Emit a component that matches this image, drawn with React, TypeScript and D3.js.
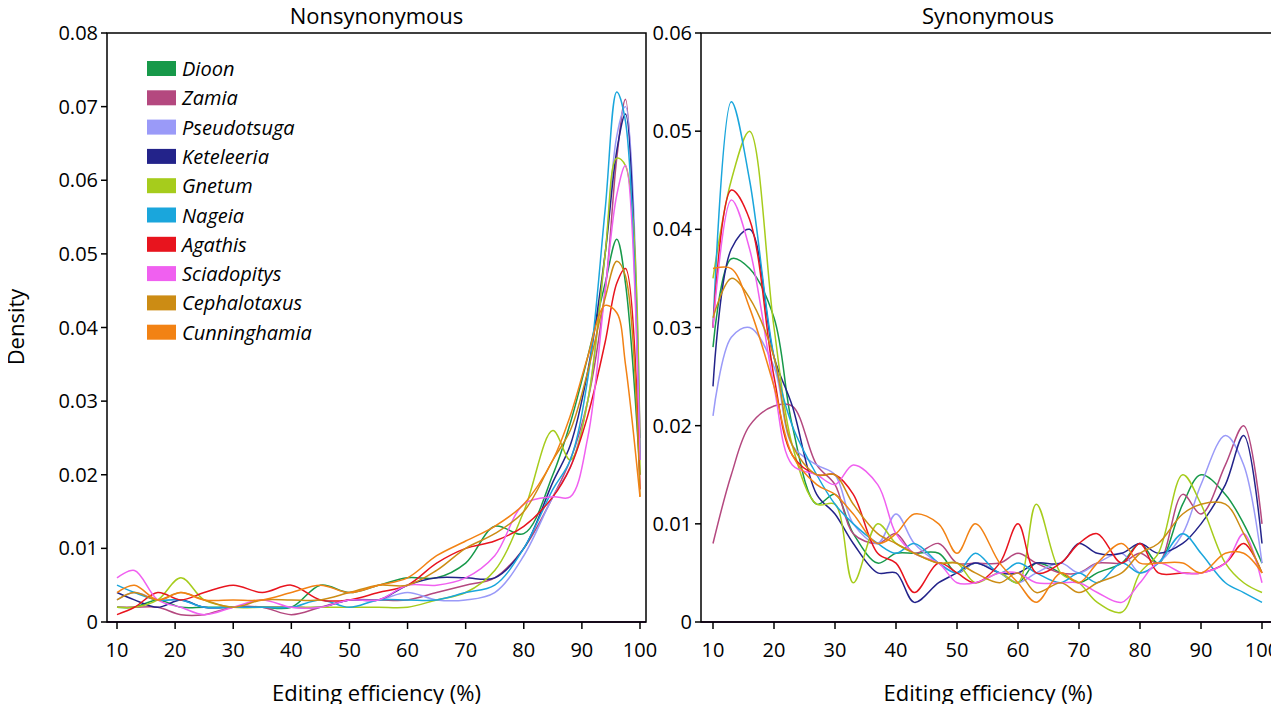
import * as d3 from "d3";

const species = ["Dioon", "Zamia", "Pseudotsuga", "Keteleeria", "Gnetum", "Nageia", "Agathis", "Sciadopitys", "Cephalotaxus", "Cunninghamia"];
const colors = ["#17994a", "#b4487f", "#9a9af8", "#23238a", "#a6cc1c", "#1aa6dc", "#e8141e", "#f060f0", "#cc8c14", "#f28214"];

const nsX = [10, 13, 17, 21, 25, 30, 35, 40, 45, 50, 55, 60, 65, 70, 75, 80, 85, 88, 91, 94, 96, 97.5, 100];
const nsY = [
  [0.002, 0.002, 0.003, 0.002, 0.002, 0.002, 0.002, 0.002, 0.005, 0.004, 0.005, 0.006, 0.006, 0.008, 0.013, 0.012, 0.02, 0.027, 0.036, 0.046, 0.052, 0.046, 0.02],
  [0.002, 0.002, 0.002, 0.001, 0.001, 0.002, 0.002, 0.001, 0.002, 0.003, 0.003, 0.003, 0.004, 0.005, 0.006, 0.01, 0.017, 0.022, 0.03, 0.045, 0.063, 0.071, 0.025],
  [0.003, 0.004, 0.003, 0.003, 0.002, 0.002, 0.002, 0.002, 0.002, 0.003, 0.003, 0.004, 0.003, 0.003, 0.004, 0.009, 0.017, 0.021, 0.03, 0.05, 0.066, 0.07, 0.025],
  [0.004, 0.003, 0.002, 0.003, 0.002, 0.002, 0.002, 0.002, 0.002, 0.003, 0.003, 0.005, 0.006, 0.006, 0.006, 0.01, 0.019, 0.024, 0.034, 0.05, 0.064, 0.069, 0.022],
  [0.002, 0.002, 0.003, 0.006, 0.003, 0.002, 0.002, 0.002, 0.002, 0.002, 0.002, 0.002, 0.003, 0.004, 0.007, 0.015, 0.026, 0.022, 0.03, 0.05, 0.063, 0.062, 0.02],
  [0.005, 0.004, 0.003, 0.003, 0.002, 0.002, 0.002, 0.002, 0.003, 0.002, 0.003, 0.003, 0.003, 0.004, 0.005, 0.01, 0.018, 0.022, 0.033, 0.056, 0.072, 0.068, 0.022],
  [0.001, 0.002, 0.004, 0.003, 0.004, 0.005, 0.004, 0.005, 0.003, 0.003, 0.004, 0.005, 0.008, 0.01, 0.011, 0.013, 0.017, 0.021, 0.028, 0.038, 0.046, 0.048, 0.018],
  [0.006, 0.007, 0.003, 0.002, 0.001, 0.002, 0.003, 0.002, 0.002, 0.003, 0.003, 0.005, 0.005, 0.006, 0.009, 0.016, 0.017, 0.017, 0.025, 0.045, 0.058, 0.062, 0.022],
  [0.003, 0.004, 0.003, 0.004, 0.003, 0.002, 0.003, 0.003, 0.003, 0.004, 0.005, 0.005, 0.007, 0.01, 0.012, 0.015, 0.022, 0.026, 0.034, 0.044, 0.049, 0.047, 0.017],
  [0.004, 0.005, 0.003, 0.004, 0.003, 0.003, 0.003, 0.004, 0.005, 0.004, 0.005, 0.006, 0.009, 0.011, 0.013, 0.016, 0.022, 0.028, 0.036, 0.043, 0.042, 0.035, 0.017],
];

const sX = [10, 13, 16, 20, 23, 27, 30, 33, 37, 40, 43, 47, 50, 53, 57, 60, 63, 67, 70, 73, 77, 80, 83, 87, 90, 94, 97, 100];
const sY = [
  [0.028, 0.037, 0.036, 0.031, 0.02, 0.012, 0.013, 0.009, 0.006, 0.007, 0.007, 0.007, 0.005, 0.006, 0.005, 0.004, 0.006, 0.005, 0.004, 0.005, 0.006, 0.008, 0.006, 0.012, 0.015, 0.013, 0.01, 0.006],
  [0.008, 0.015, 0.02, 0.022, 0.022, 0.016, 0.014, 0.009, 0.008, 0.009, 0.007, 0.008, 0.006, 0.006, 0.006, 0.007, 0.006, 0.005, 0.005, 0.006, 0.006, 0.007, 0.006, 0.013, 0.011, 0.016, 0.02, 0.01],
  [0.021, 0.029, 0.03, 0.026, 0.018, 0.016, 0.015, 0.01, 0.008, 0.011, 0.008, 0.006, 0.005, 0.006, 0.005, 0.004, 0.005, 0.006, 0.005, 0.006, 0.007, 0.005, 0.006, 0.009, 0.014, 0.019, 0.016, 0.006],
  [0.024, 0.038, 0.04, 0.027, 0.022, 0.013, 0.011, 0.008, 0.005, 0.005, 0.002, 0.004, 0.005, 0.006, 0.005, 0.005, 0.006, 0.006, 0.008, 0.007, 0.007, 0.008, 0.007, 0.008, 0.01, 0.014, 0.019, 0.008],
  [0.035, 0.045, 0.05, 0.03, 0.018, 0.012, 0.012, 0.004, 0.01, 0.008, 0.007, 0.006, 0.006, 0.004, 0.005, 0.004, 0.012, 0.005, 0.004, 0.002, 0.001, 0.005, 0.007, 0.015, 0.012, 0.006, 0.004, 0.003],
  [0.03, 0.053, 0.045, 0.027, 0.02, 0.015, 0.012, 0.01, 0.008, 0.007, 0.008, 0.006, 0.005, 0.007, 0.005, 0.006, 0.005, 0.004, 0.005, 0.004, 0.006, 0.005, 0.006, 0.009, 0.007, 0.004, 0.003, 0.002],
  [0.03, 0.044, 0.041, 0.025, 0.017, 0.015, 0.015, 0.013, 0.007, 0.006, 0.003, 0.006, 0.005, 0.004, 0.006, 0.01, 0.005, 0.006, 0.008, 0.009, 0.006, 0.008, 0.005, 0.005, 0.005, 0.006, 0.008, 0.005],
  [0.03, 0.043, 0.038, 0.024, 0.016, 0.015, 0.014, 0.016, 0.014, 0.009, 0.007, 0.006, 0.004, 0.004, 0.005, 0.005, 0.004, 0.004, 0.004, 0.003, 0.002, 0.004, 0.006, 0.005, 0.005, 0.006, 0.009, 0.004],
  [0.031, 0.035, 0.033, 0.027, 0.018, 0.015, 0.015, 0.012, 0.009, 0.008, 0.007, 0.006, 0.006, 0.005, 0.004, 0.005, 0.003, 0.004, 0.003, 0.004, 0.005, 0.007, 0.008, 0.011, 0.012, 0.012, 0.009, 0.005],
  [0.036, 0.036, 0.032, 0.024, 0.017, 0.014, 0.013, 0.011, 0.008, 0.009, 0.011, 0.01, 0.007, 0.01, 0.006, 0.004, 0.002, 0.005, 0.004, 0.006, 0.008, 0.006, 0.006, 0.006, 0.005, 0.007, 0.007, 0.005],
];

const nsTicks = [0, 0.01, 0.02, 0.03, 0.04, 0.05, 0.06, 0.07, 0.08];
const sTicks = [0, 0.01, 0.02, 0.03, 0.04, 0.05, 0.06];
const xTicks = [10, 20, 30, 40, 50, 60, 70, 80, 90, 100];

const FONT = "'Open Sans', sans-serif";
const top = 33;
const bottom = 622;

function Panel({ left, right, x0, x1, title, xs, ys, yMax, yTicks, legend }: {
  left: number; right: number; x0: number; x1: number; title: string; xs: number[]; ys: number[][]; yMax: number; yTicks: number[]; legend: boolean;
}) {
  const x = d3.scaleLinear().domain([10, 100]).range([x0, x1]);
  const y = d3.scaleLinear().domain([0, yMax]).range([bottom, top]);
  const line = d3.line<number>().x((_, i) => x(xs[i])).y((d) => y(Math.max(0, d))).curve(d3.curveCatmullRom.alpha(0.5));
  return (
    <g fontFamily={FONT}>
      <text x={(left + right) / 2} y={top - 9} textAnchor="middle" fontSize={22}>{title}</text>
      <defs>
        <clipPath id={"c" + title}><rect x={left} y={top} width={right - left} height={bottom - top} /></clipPath>
      </defs>
      <g clipPath={`url(#c${title})`}>
        {ys.map((s, k) => (
          <path key={k} d={line(s) || ""} fill="none" stroke={colors[k]} strokeWidth={1.5} />
        ))}
      </g>
      <line x1={left} x2={right} y1={bottom} y2={bottom} stroke="#5a2a6a" strokeWidth={2} />
      <rect x={left} y={top} width={right - left} height={bottom - top} fill="none" stroke="#000" strokeWidth={1.5} />
      {yTicks.map((t) => (
        <g key={t}>
          <line x1={left - 6} x2={left} y1={y(t)} y2={y(t)} stroke="#000" strokeWidth={1.5} />
          <text x={left - 9} y={y(t)} dy="0.35em" textAnchor="end" fontSize={20}>{t === 0 ? "0" : t.toFixed(2)}</text>
        </g>
      ))}
      {xTicks.map((t) => (
        <g key={t}>
          <line x1={x(t)} x2={x(t)} y1={bottom} y2={bottom + 7} stroke="#000" strokeWidth={1.5} />
          <text x={x(t)} y={bottom + 35} textAnchor="middle" fontSize={20}>{t}</text>
        </g>
      ))}
      <text x={(left + right) / 2} y={bottom + 79} textAnchor="middle" fontSize={22}>Editing efficiency (%)</text>
      {legend && species.map((sp, k) => (
        <g key={sp} transform={`translate(${left + 40},${61 + k * 29.3})`}>
          <rect width={29} height={15} fill={colors[k]} />
          <text x={35} y={8} dy="0.35em" fontSize={20} fontStyle="italic">{sp}</text>
        </g>
      ))}
    </g>
  );
}

export default function App() {
  return (
    <svg width={1279} height={712} style={{ display: "block", margin: -8 }}>
      <rect width={1279} height={712} fill="#fff" />
      <text transform="translate(24,327) rotate(-90)" textAnchor="middle" fontSize={22} fontFamily={FONT}>Density</text>
      <Panel left={107} right={646} x0={117} x1={640} title="Nonsynonymous" xs={nsX} ys={nsY} yMax={0.08} yTicks={nsTicks} legend={true} />
      <Panel left={701} right={1275} x0={713} x1={1262} title="Synonymous" xs={sX} ys={sY} yMax={0.06} yTicks={sTicks} legend={false} />
    </svg>
  );
}
